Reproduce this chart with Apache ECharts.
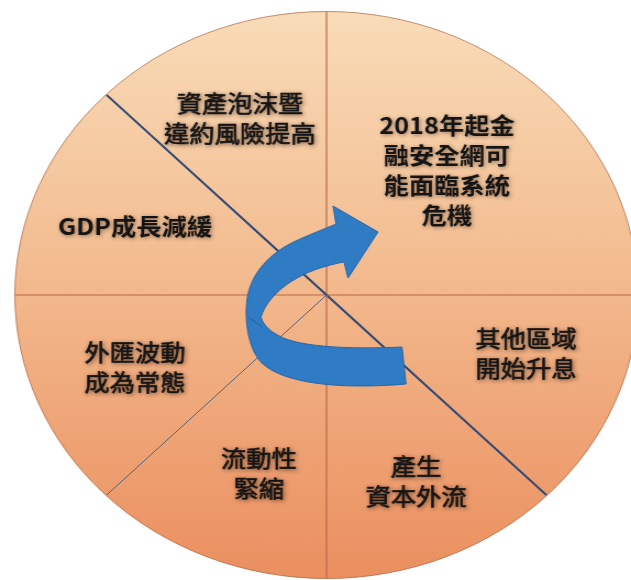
<!DOCTYPE html>
<html>
<head>
<meta charset="utf-8">
<script src="https://cdn.jsdelivr.net/npm/echarts@6/dist/echarts.min.js"></script>
<style>
  html, body { margin: 0; padding: 0; background: #fff; overflow: hidden; }
  #wrap { width: 631px; height: 580px; overflow: hidden; }
  /* the wheel is drawn round and widened horizontally */
  #chart { width: 574px; height: 580px; transform-origin: 0 0; transform: scaleX(1.0993); }
</style>
</head>
<body>
<div id="wrap"><div id="chart"></div></div>
<script>
// Sector names, clockwise from twelve o'clock
const categories = [
  '2018年起金\n融安全網可\n能面臨系統\n危機',
  '其他區域\n開始升息',
  '產生\n資本外流',
  '流動性\n緊縮',
  '外匯波動\n成為常態',
  'GDP成長減緩',
  '資產泡沫暨\n違約風險提高'
];
// Angular span of each sector (degrees)
const spans = [90, 45, 45, 45, 45, 45, 45];

// ---- layout & styling ----
const S = 631 / 574;              // horizontal stretch applied to the canvas
const CX = 326.5 / S, CY = 295, R = 283.5;
const labelPos = [[447, 170], [526, 353], [416, 481], [259, 473], [135, 367], [135, 226], [240, 118]];
const labelHeavy = [true, false, false, false, false, true, false];
// divider drawn at the start edge of each sector
const rayStyles = [
  { color: '#b8694a', width: 1.2 },
  { color: '#b8694a', width: 1.2 },
  { color: '#2b4674', width: 2 },
  { color: '#b8694a', width: 1.2 },
  { color: '#56607c', width: 1 },
  { color: '#b8694a', width: 1.2 },
  { color: '#2b4674', width: 2 }
];

function fill() {
  return new echarts.graphic.LinearGradient(0, CY - R, 0, CY + R, [
    { offset: 0, color: '#f9dcb8' },
    { offset: 0.45, color: '#f3bc90' },
    { offset: 1, color: '#eb8f5f' }
  ], true);
}

// divider lines from the centre, one per sector boundary
const rays = [];
let ang = 90;
spans.forEach((sp, i) => {
  const t = ang * Math.PI / 180;
  rays.push({
    type: 'line', z: 10, silent: true,
    shape: { x1: CX, y1: CY, x2: CX + (R - 0.5) * Math.cos(t), y2: CY - (R - 0.5) * Math.sin(t) },
    style: { stroke: rayStyles[i].color, lineWidth: rayStyles[i].width }
  });
  ang -= sp;
});

// curved ribbon arrow outline (page pixels), sampled into a polygon
const arrowPath = [
  ['M', 402, 347],
  ['L', 406, 384],
  ['C', 360, 388, 290, 388, 263, 364],
  ['C', 249, 352, 244, 322, 247, 300],
  ['C', 250, 274, 270, 252, 298, 240],
  ['C', 311, 234, 324, 229, 336, 224],
  ['L', 333, 206],
  ['L', 378, 232],
  ['L', 348, 278],
  ['L', 344, 262],
  ['C', 328, 265, 312, 270, 301, 276],
  ['C', 283, 285, 266, 300, 261, 317],
  ['C', 263, 325, 271, 333, 286, 339],
  ['C', 311, 348, 360, 349, 402, 347]
];
function sampleOutline(cmds) {
  const pts = [];
  let cur = null;
  cmds.forEach(c => {
    if (c[0] === 'M' || c[0] === 'L') {
      cur = [c[1], c[2]];
      pts.push(cur);
    } else {
      const p0 = cur, p1 = [c[1], c[2]], p2 = [c[3], c[4]], p3 = [c[5], c[6]];
      for (let k = 1; k <= 24; k++) {
        const t = k / 24, u = 1 - t;
        pts.push([
          u * u * u * p0[0] + 3 * u * u * t * p1[0] + 3 * u * t * t * p2[0] + t * t * t * p3[0],
          u * u * u * p0[1] + 3 * u * u * t * p1[1] + 3 * u * t * t * p2[1] + t * t * t * p3[1]
        ]);
      }
      cur = p3;
    }
  });
  return pts.map(p => [p[0] / S, p[1]]);
}

const chart = echarts.init(document.getElementById('chart'));
chart.setOption({
  animation: false,
  backgroundColor: '#ffffff',
  graphic: [
    { type: 'circle', z: 1, silent: true, shape: { cx: CX, cy: CY, r: R }, style: { fill: fill() } },
    ...rays,
    { type: 'circle', z: 11, silent: true, shape: { cx: CX, cy: CY, r: R }, style: { fill: 'none', stroke: 'rgba(178,112,80,0.75)', lineWidth: 1 } },
    {
      type: 'polygon', z: 20, silent: true,
      shape: { points: sampleOutline(arrowPath) },
      style: { fill: '#2f7bc4', stroke: '#2667aa', lineWidth: 1 }
    },
    {
      type: 'line', z: 21, silent: true,
      shape: { x1: 248 / S, y1: 317, x2: 262 / S, y2: 327 },
      style: { stroke: '#245f9c', lineWidth: 1 }
    }
  ],
  series: [{
    type: 'pie',
    silent: true,
    center: [CX, CY],
    radius: R,
    startAngle: 90,
    clockwise: true,
    avoidLabelOverlap: false,
    itemStyle: { color: fill(), borderWidth: 0 },
    label: {
      show: true,
      position: 'inside',
      formatter: '{b}',
      color: '#141414',
      fontFamily: '"Noto Sans CJK TC", "Noto Sans CJK SC", sans-serif',
      fontSize: 23,
      lineHeight: 30,
      align: 'center',
      textShadowColor: 'rgba(60,35,20,0.55)',
      textShadowBlur: 4,
      textShadowOffsetX: 1,
      textShadowOffsetY: 1
    },
    labelLine: { show: false },
    labelLayout: function (p) {
      const pos = labelPos[p.dataIndex];
      return { x: pos[0] / S, y: pos[1], align: 'center', verticalAlign: 'middle' };
    },
    data: categories.map((name, i) => ({
      name: name,
      value: spans[i],
      label: labelHeavy[i]
        ? { fontWeight: 'bold' }
        : { fontWeight: 'normal', textBorderColor: '#1c1c1c', textBorderWidth: 0.7 }
    }))
  }]
});
</script>
</body>
</html>
